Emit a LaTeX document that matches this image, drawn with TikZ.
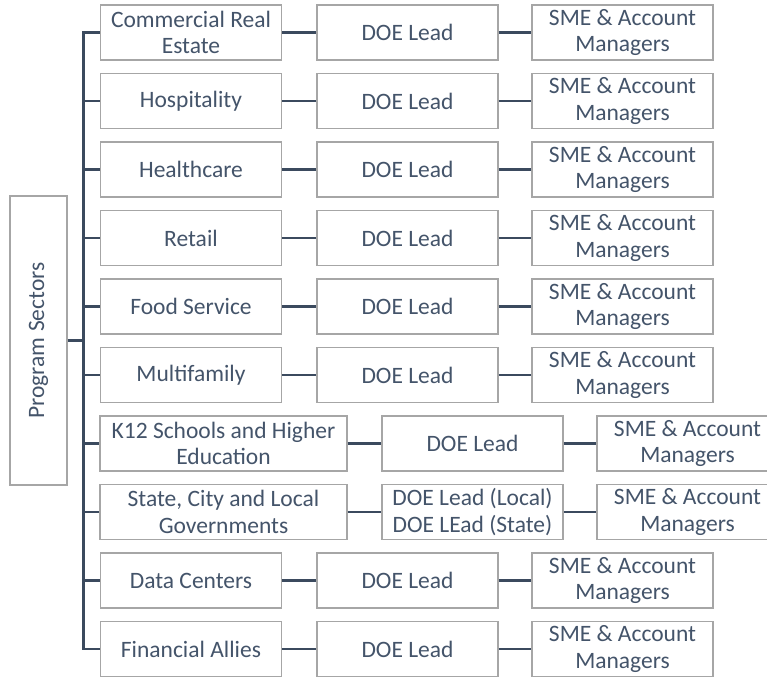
\documentclass[tikz,border=0pt]{standalone}
\usepackage{fontspec}
\setmainfont{Carlito}
\definecolor{txt}{HTML}{44546A}
\definecolor{boxgray}{HTML}{A6A6A6}
\definecolor{conn}{HTML}{3B4A5E}
\begin{document}
\begin{tikzpicture}[x=1pt,y=-1pt,
  box/.style={draw=boxgray, line width=1.3pt, fill=white, minimum height=55pt,
    minimum width=181pt, inner sep=0pt, align=center, text=txt,
    font=\fontsize{23.5}{26.5}\selectfont},
  wide/.style={box, minimum width=247pt},
  link/.style={draw=conn, line width=2.5pt, line join=miter}]
\useasboundingbox (0,0) rectangle (767,677);
\clip (0,0) rectangle (767,677);
% root
\node[box, minimum width=57pt, minimum height=289pt] (ps) at (38.5,340.5)
  {\rotatebox{90}{Program Sectors}};
\coordinate (tr) at (83.5,340.5);
% rows
\foreach \k/\name/\lab in {1/a/{Commercial Real\\Estate},2/b/Hospitality,3/c/Healthcare,
   4/d/Retail,5/e/Food Service,6/f/Multifamily,9/i/Data Centers,10/j/Financial Allies}{
  \pgfmathsetmacro{\yy}{32.5+68.5*(\k-1)}
  \node[box] (\name1) at (191,\yy) {\lab};
  \node[box] (\name2) at (407.5,\yy) {DOE Lead};
  \node[box] (\name3) at (622.5,\yy) {SME \& Account\\Managers};
}
\node[wide] (g1) at (223.5,443.5) {K12 Schools and Higher\\Education};
\node[box] (g2) at (472.5,443.5) {DOE Lead};
\node[box] (g3) at (687.5,443.5) {SME \& Account\\Managers};
\node[wide] (h1) at (223.5,512) {State, City and Local\\Governments};
\node[box] (h2) at (472.5,512) {DOE Lead (Local)\\DOE LEad (State)};
\node[box] (h3) at (687.5,512) {SME \& Account\\Managers};
% connectors
\draw[link] (ps.east) -- (tr);
\foreach \name in {a,b,c,d,e,f,g,h,i,j}{
  \draw[link] (tr) |- (\name1.west);
  \draw[link] (\name1.east) -- (\name2.west);
  \draw[link] (\name2.east) -- (\name3.west);
}
\end{tikzpicture}
\end{document}
